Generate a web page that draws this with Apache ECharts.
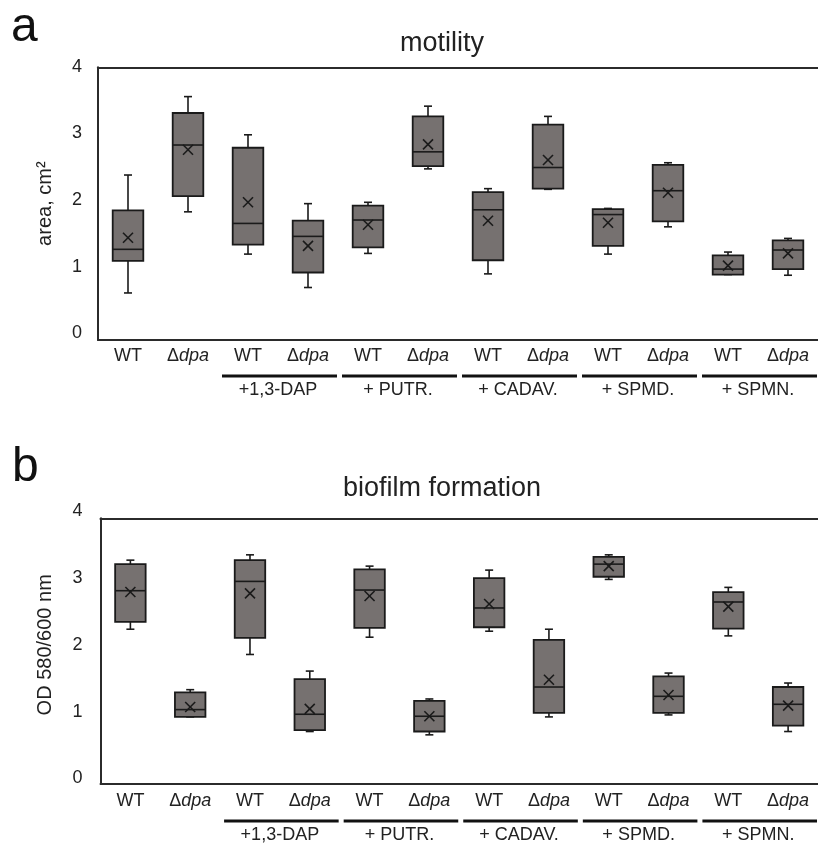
<!DOCTYPE html>
<html>
<head>
<meta charset="utf-8">
<script src="https://cdn.jsdelivr.net/npm/echarts@6/dist/echarts.min.js"></script>
<style>
  html, body { margin: 0; padding: 0; background: #fff; }
  #main { width: 818px; height: 846px; }
</style>
</head>
<body>
<div id="main"></div>
<script type="text/javascript">
    // categories along the x axis, and the treatment groups under them
    var categories = ['WT', 'Δdpa', 'WT', 'Δdpa', 'WT', 'Δdpa', 'WT', 'Δdpa', 'WT', 'Δdpa', 'WT', 'Δdpa'];
    var groups = ['', '+1,3-DAP', '+ PUTR.', '+ CADAV.', '+ SPMD.', '+ SPMN.'];
    var yTicks = [0, 1, 2, 3, 4];

    // a: motility (area, cm2)
    var motLow  = [0.69, 1.88, 1.26, 0.77, 1.27, 2.51, 0.97, 2.21, 1.26, 1.66, 0.96, 0.95];
    var motQ1   = [1.16, 2.11, 1.40, 0.99, 1.36, 2.55, 1.17, 2.22, 1.38, 1.74, 0.96, 1.04];
    var motMed  = [1.33, 2.86, 1.71, 1.52, 1.76, 2.76, 1.91, 2.53, 1.84, 2.19, 1.04, 1.32];
    var motQ3   = [1.90, 3.33, 2.82, 1.75, 1.97, 3.28, 2.17, 3.16, 1.92, 2.57, 1.24, 1.46];
    var motHigh = [2.42, 3.57, 3.01, 2.00, 2.02, 3.43, 2.22, 3.28, 1.93, 2.60, 1.29, 1.49];
    var motMean = [1.50, 2.79, 2.02, 1.38, 1.69, 2.87, 1.75, 2.64, 1.72, 2.16, 1.09, 1.27];

    // b: biofilm formation (OD 580/600 nm)
    var bioLow  = [2.33, 1.01, 1.95, 0.79, 2.21, 0.74, 2.30, 1.01, 3.08, 1.04, 2.23, 0.79];
    var bioQ1   = [2.44, 1.01, 2.20, 0.81, 2.35, 0.79, 2.36, 1.07, 3.12, 1.07, 2.34, 0.88];
    var bioMed  = [2.91, 1.12, 3.05, 1.05, 2.92, 1.02, 2.65, 1.46, 3.31, 1.32, 2.74, 1.20];
    var bioQ3   = [3.31, 1.38, 3.37, 1.58, 3.23, 1.25, 3.10, 2.17, 3.42, 1.62, 2.89, 1.46];
    var bioHigh = [3.37, 1.42, 3.45, 1.70, 3.28, 1.28, 3.22, 2.33, 3.45, 1.67, 2.96, 1.52];
    var bioMean = [2.89, 1.16, 2.87, 1.13, 2.83, 1.02, 2.71, 1.57, 3.28, 1.34, 2.67, 1.18];

    var FONT = "'Liberation Sans', Arial, Helvetica, sans-serif";
    var INK = '#1a1a1a';
    var TXT = '#222';

    function boxRows(lo, q1, med, q3, hi, mean) {
        return categories.map(function (c, i) {
            return [i, lo[i], q1[i], med[i], q3[i], hi[i], mean[i]];
        });
    }

    // box, whiskers with short caps, median line and x for the mean
    function renderBox(params, api) {
        var x = api.value(0);
        var bw = api.size([1, 0])[0] * 0.51;
        var pLo = api.coord([x, api.value(1)]);
        var pQ1 = api.coord([x, api.value(2)]);
        var pMed = api.coord([x, api.value(3)]);
        var pQ3 = api.coord([x, api.value(4)]);
        var pHi = api.coord([x, api.value(5)]);
        var pMean = api.coord([x, api.value(6)]);
        var cx = pMed[0], h = bw / 2, c = 4, m = 5;
        var ln = { stroke: INK, lineWidth: 1.6 };
        return {
            type: 'group',
            children: [
                { type: 'line', shape: { x1: cx, y1: pHi[1], x2: cx, y2: pQ3[1] }, style: ln },
                { type: 'line', shape: { x1: cx - c, y1: pHi[1], x2: cx + c, y2: pHi[1] }, style: ln },
                { type: 'line', shape: { x1: cx, y1: pQ1[1], x2: cx, y2: pLo[1] }, style: ln },
                { type: 'line', shape: { x1: cx - c, y1: pLo[1], x2: cx + c, y2: pLo[1] }, style: ln },
                { type: 'rect', shape: { x: cx - h, y: pQ3[1], width: bw, height: pQ1[1] - pQ3[1] },
                  style: { fill: '#767170', stroke: INK, lineWidth: 1.8 } },
                { type: 'line', shape: { x1: cx - h, y1: pMed[1], x2: cx + h, y2: pMed[1] }, style: ln },
                { type: 'line', shape: { x1: cx - m, y1: pMean[1] - m, x2: cx + m, y2: pMean[1] + m }, style: ln },
                { type: 'line', shape: { x1: cx - m, y1: pMean[1] + m, x2: cx + m, y2: pMean[1] - m }, style: ln }
            ]
        };
    }

    // thick bars under each treatment pair
    function groupBar(offset) {
        return function (params, api) {
            var p = api.coord([api.value(0), 0]);
            var w = api.size([1, 0])[0];
            return {
                type: 'line',
                shape: { x1: p[0] - w / 2 + 4, y1: p[1] + offset, x2: p[0] + w / 2 - 1, y2: p[1] + offset },
                style: { stroke: '#111', lineWidth: 3 }
            };
        };
    }

    function catLabel(v) {
        if (v.charAt(0) === 'Δ') return '{n|Δ}{i|' + v.slice(1) + '}';
        return '{n|' + v + '}';
    }
    var rich = {
        n: { fontSize: 18, color: TXT, fontFamily: FONT, lineHeight: 20 },
        i: { fontSize: 18, color: TXT, fontFamily: FONT, fontStyle: 'italic', lineHeight: 20 }
    };

    function catAxis(grid, margin) {
        return {
            type: 'category', gridIndex: grid, data: categories, position: 'bottom',
            axisLine: { onZero: false, lineStyle: { color: '#2b2b2b', width: 2 } },
            axisTick: { show: false },
            axisLabel: { interval: 0, margin: margin, formatter: catLabel, rich: rich, lineHeight: 20 }
        };
    }
    function groupAxis(grid, offset, margin) {
        return {
            type: 'category', gridIndex: grid, data: groups, position: 'bottom', offset: offset,
            axisLine: { show: false }, axisTick: { show: false },
            axisLabel: { interval: 0, margin: margin, fontSize: 18, color: TXT, fontFamily: FONT, lineHeight: 20 }
        };
    }
    function topAxis(grid) {
        return {
            type: 'category', gridIndex: grid, data: categories, position: 'top',
            axisLine: { onZero: false, lineStyle: { color: '#2b2b2b', width: 2 } },
            axisTick: { show: false }, axisLabel: { show: false }
        };
    }
    function dataY(grid) {
        return {
            type: 'value', gridIndex: grid, min: yTicks[0], max: yTicks[yTicks.length - 1],
            axisLine: { show: true, lineStyle: { color: '#2b2b2b', width: 2 } },
            axisTick: { show: false }, axisLabel: { show: false }, splitLine: { show: false }
        };
    }
    function labelY(grid, margin) {
        return {
            type: 'value', gridIndex: grid, min: yTicks[0], max: yTicks[yTicks.length - 1], interval: 1,
            axisLine: { show: false }, axisTick: { show: false }, splitLine: { show: false },
            axisLabel: { margin: margin, fontSize: 18, color: TXT, fontFamily: FONT }
        };
    }

    var myChart = echarts.init(document.getElementById('main'));

    var yA = dataY(0);
    yA.name = 'area, cm²';
    yA.nameLocation = 'middle';
    yA.nameGap = 43;
    yA.nameTextStyle = { fontSize: 20, color: TXT, fontFamily: FONT };

    var yBlab = labelY(3, 18);
    yBlab.name = 'OD 580/600 nm';
    yBlab.nameLocation = 'middle';
    yBlab.nameGap = 45;
    yBlab.nameTextStyle = { fontSize: 20, color: TXT, fontFamily: FONT };

    var option = {
        backgroundColor: '#fff',
        animation: false,
        textStyle: { fontFamily: FONT },
        title: [
            { text: 'a', left: 11, top: 4, padding: 0, textStyle: { fontSize: 48, fontWeight: 'normal', color: '#111', fontFamily: FONT, lineHeight: 48 } },
            { text: 'motility', left: 442, top: 30, padding: 0, textAlign: 'center', textStyle: { fontSize: 27, fontWeight: 'normal', color: TXT, fontFamily: FONT, lineHeight: 27 } },
            { text: 'b', left: 12, top: 444, padding: 0, textStyle: { fontSize: 48, fontWeight: 'normal', color: '#111', fontFamily: FONT, lineHeight: 48 } },
            { text: 'biofilm formation', left: 442, top: 475, padding: 0, textAlign: 'center', textStyle: { fontSize: 27, fontWeight: 'normal', color: TXT, fontFamily: FONT, lineHeight: 27 } }
        ],
        grid: [
            { left: 98, top: 67.3, width: 720, height: 272.7 },
            { left: 100.5, top: 518.3, width: 717.5, height: 265.7 },
            // grids that only carry the tick labels, placed where the figure prints them
            { left: 98, top: 66.7, width: 720, height: 266.6 },
            { left: 100.5, top: 511.3, width: 717.5, height: 267 }
        ],
        xAxis: [
            catAxis(0, 6), groupAxis(0, 36, 4), topAxis(0),
            catAxis(1, 7), groupAxis(1, 37, 4), topAxis(1),
            { type: 'value', gridIndex: 2, show: false },
            { type: 'value', gridIndex: 3, show: false }
        ],
        yAxis: [yA, dataY(1), labelY(2, 16), yBlab],
        series: [
            { type: 'custom', xAxisIndex: 0, yAxisIndex: 0, clip: false, renderItem: renderBox,
              data: boxRows(motLow, motQ1, motMed, motQ3, motHigh, motMean) },
            { type: 'custom', xAxisIndex: 1, yAxisIndex: 0, clip: false, renderItem: groupBar(36),
              data: [[1], [2], [3], [4], [5]] },
            { type: 'custom', xAxisIndex: 3, yAxisIndex: 1, clip: false, renderItem: renderBox,
              data: boxRows(bioLow, bioQ1, bioMed, bioQ3, bioHigh, bioMean) },
            { type: 'custom', xAxisIndex: 4, yAxisIndex: 1, clip: false, renderItem: groupBar(37),
              data: [[1], [2], [3], [4], [5]] }
        ]
    };

    myChart.setOption(option);
</script>
</body>
</html>
